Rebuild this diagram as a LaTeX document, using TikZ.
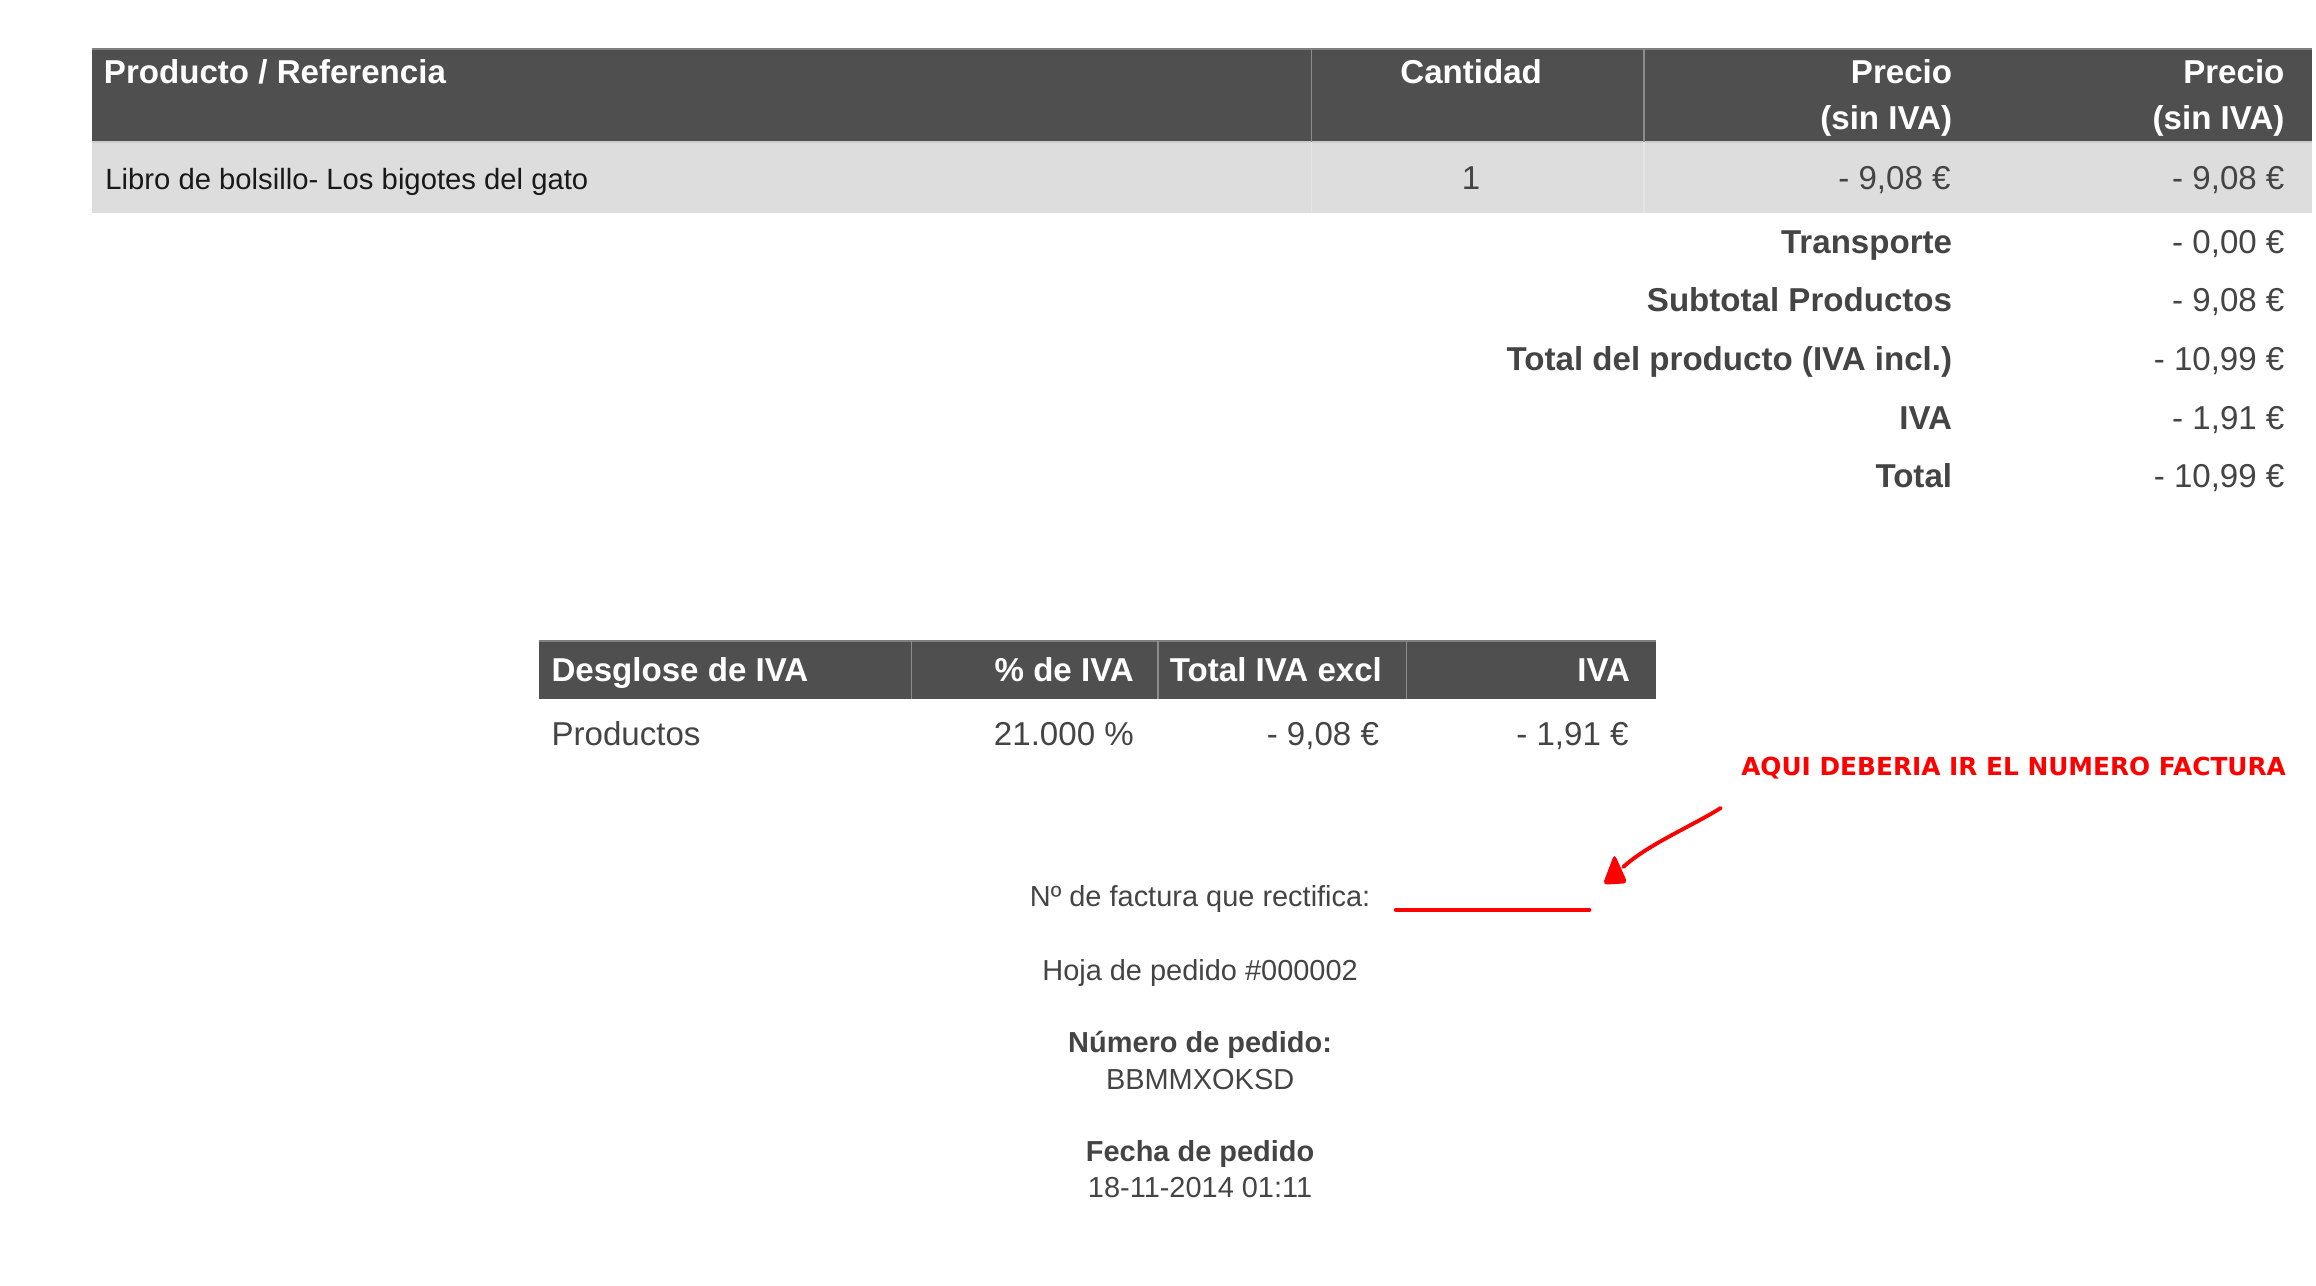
\documentclass[tikz,border=0pt]{standalone}
\usepackage{fontspec}
\setmainfont{Liberation Sans}
\newfontfamily\notefont{DejaVu Sans}
\definecolor{hdrgray}{HTML}{4F4F4F}
\definecolor{rowgray}{HTML}{DDDDDD}
\definecolor{txtgray}{HTML}{444444}
\definecolor{notered}{HTML}{FF0000}
\tikzset{
  cell/.style={inner sep=0pt, text=txtgray, font=\fontsize{11.2}{13}\selectfont},
  hdr/.style={cell, text=white, font=\fontsize{11.2}{13}\selectfont\bfseries},
  lbl/.style={cell, font=\fontsize{11.2}{13}\selectfont\bfseries},
  small/.style={inner sep=0pt, text=txtgray, font=\fontsize{9.8}{12}\selectfont},
  smallb/.style={small, font=\fontsize{9.8}{12}\selectfont\bfseries},
  note/.style={inner sep=0pt, text=notered, font=\notefont\fontsize{8.4}{10}\selectfont\bfseries},
}
\begin{document}
\begin{tikzpicture}[x=0.5pt,y=-0.5pt]
\useasboundingbox (0,0) rectangle (1568,870);
% product table
\fill[hdrgray] (62,33) rectangle (1565,96);
\fill[rowgray] (62,96) rectangle (1565,144);
\draw[line width=0.6pt, color=gray] (62,33) -- (1565,33);
\draw[line width=0.5pt, color=gray!40] (62,96) -- (1565,96);
\foreach \x in {888,1113}
	\draw[line width=0.4pt, color=gray!90] (\x,33) -- (\x,96);
\foreach \x in {888,1113}
	\draw[line width=0.4pt, color=gray!20] (\x,96) -- (\x,144);
\node[hdr, anchor=base west] (hprod) at (70,56.5) {Producto / Referencia};
\node[hdr, anchor=base] (hcant) at (996,56.5) {Cantidad};
\node[hdr, anchor=base east] (hpre) at (1322,56.5) {Precio};
\node[hdr, anchor=base east] (hpresin) at (1322,87.5) {(sin IVA)};
\node[hdr, anchor=base east] (htot) at (1547,56.5) {Precio};
\node[hdr, anchor=base east] (htotsin) at (1547,87.5) {(sin IVA)};
\node[small, text=black!90, font=\fontsize{9.9}{12}\selectfont, anchor=base west] (libro) at (71,128.5) {Libro de bolsillo- Los bigotes del gato};
\node[cell, anchor=base] (cant) at (996,128.5) {1};
\node[cell, anchor=base east] (pre) at (1321,128.5) {- 9,08 €};
\node[cell, anchor=base east] (tot) at (1547,128.5) {- 9,08 €};
% totals
\foreach \lab/\amt [count=\i] in {Transporte/{- 0,00 €}, Subtotal Productos/{- 9,08 €}, Total del producto (IVA incl.)/{- 10,99 €}, IVA/{- 1,91 €}, Total/{- 10,99 €}}{
	\node[lbl, anchor=base east] (sum\i) at (1322,{171.5+(\i-1)*39.7}) {\lab};
	\node[cell, anchor=base east] (amt\i) at (1547,{171.5+(\i-1)*39.7}) {\amt};
}
% tax table
\fill[hdrgray] (365,434) rectangle (1121,473);
\draw[line width=0.6pt, color=gray] (365,434) -- (1121,434);
\foreach \x in {617,784,952}
	\draw[line width=0.4pt, color=gray!90] (\x,434) -- (\x,473);
\node[hdr, anchor=base west] (hdes) at (373,461.5) {Desglose de IVA};
\node[hdr, anchor=base east] (hpct) at (768,461.5) {\% de IVA};
\node[hdr, anchor=base east] (hexcl) at (936,461.5) {Total IVA excl};
\node[hdr, anchor=base east] (hiva) at (1104,461.5) {IVA};
\node[cell, anchor=base west] (prods) at (373,504.5) {Productos};
\node[cell, anchor=base east] (pct) at (768,504.5) {21.000 \%};
\node[cell, anchor=base east] (excl) at (934,504.5) {- 9,08 €};
\node[cell, anchor=base east] (iva) at (1103,504.5) {- 1,91 €};
% note
\node[note, anchor=base east] (nota) at (1548,525) {AQUI DEBERIA IR EL NUMERO FACTURA};
\coordinate (tail) at (1165,547);
\coordinate (head) at (1099,587);
\draw[notered, line width=1.3pt, line cap=round] (tail) .. controls (1148,558) and (1115,572) .. (head);
\fill[notered, rounded corners=1.5pt] (1093,578) -- (1102,598) -- (1085,599) -- cycle;
% order details
\node[small, anchor=base] (rect) at (812.5,614) {Nº de factura que rectifica:};
\draw[notered, line width=1.4pt, line cap=round] (945,616) -- (1076,616);
\node[small, anchor=base] (hoja) at (812.5,663.5) {Hoja de pedido \#000002};
\node[smallb, anchor=base] (num) at (812.5,712.5) {Número de pedido:};
\node[small, anchor=base] (ref) at (812.5,737.5) {BBMMXOKSD};
\node[smallb, anchor=base] (fecha) at (812.5,786.5) {Fecha de pedido};
\node[small, anchor=base] (dia) at (812.5,811) {18-11-2014 01:11};
\end{tikzpicture}
\end{document}
